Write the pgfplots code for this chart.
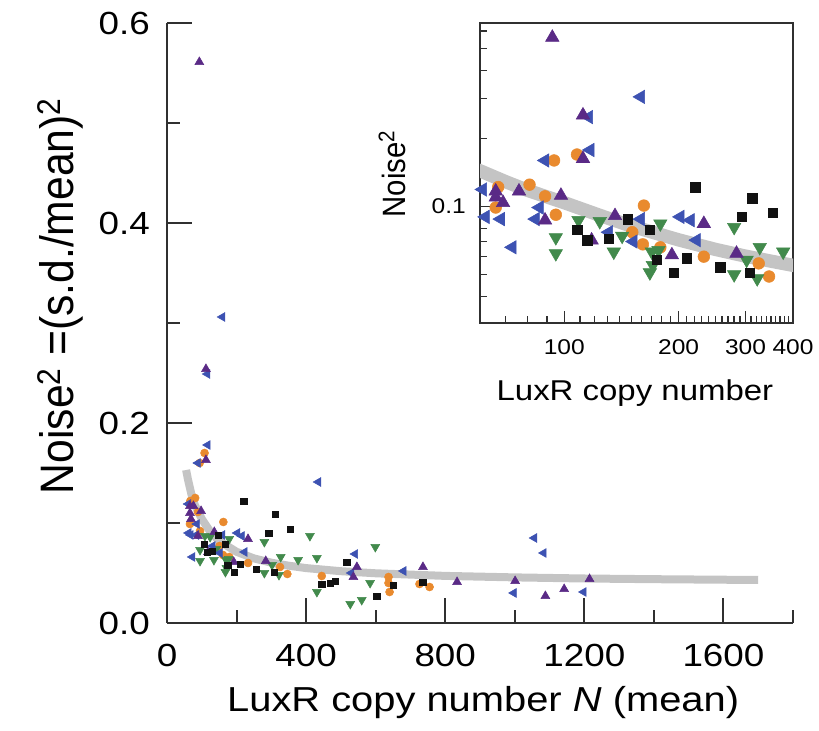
\documentclass[border=0pt]{standalone}
\usepackage{fontspec}
\setmainfont[FakeStretch=1.15]{Liberation Sans}
\newfontfamily\plainsans{Liberation Sans}
\usepackage{graphicx}
\usepackage{pgfplots}
\usepackage{pgfplotstable}
\pgfplotsset{compat=1.18}

\definecolor{luxblack}{HTML}{111111}
\definecolor{luxorange}{HTML}{E98A2E}
\definecolor{luxgreen}{HTML}{428A4C}
\definecolor{luxblue}{HTML}{3D52B2}
\definecolor{luxpurple}{HTML}{5A2A86}
\definecolor{fitgray}{HTML}{C4C4C4}
\definecolor{axisgray}{HTML}{303030}

% noise^2 against mean LuxR copy number, one table per strain
\pgfplotstableread{
N v
221 0.122
312 0.109
354 0.094
293 0.090
147 0.088
168 0.079
108 0.079
115 0.071
131 0.072
175 0.058
210 0.059
194 0.051
257 0.054
308 0.051
445 0.039
469 0.040
483 0.042
517 0.061
603 0.027
651 0.038
735 0.041
}\tblack

\pgfplotstableread{
N v
94 0.160
108 0.170
67 0.122
81 0.125
89 0.111
66 0.099
95 0.092
162 0.101
151 0.077
161 0.068
179 0.066
233 0.060
325 0.056
346 0.049
445 0.047
637 0.046
637 0.040
640 0.031
726 0.039
755 0.036
}\torange

\pgfplotstableread{
N v
109 0.087
124 0.086
95 0.073
95 0.062
135 0.063
142 0.074
179 0.084
170 0.063
171 0.055
168 0.051
177 0.064
280 0.081
280 0.050
302 0.058
327 0.066
322 0.048
377 0.063
411 0.087
431 0.065
431 0.031
599 0.076
584 0.040
527 0.019
560 0.023
}\tgreen

\pgfplotstableread{
N v
159 0.306
116 0.249
117 0.178
89 0.160
61 0.119
62 0.090
68 0.088
73 0.066
86 0.099
84 0.088
131 0.077
152 0.070
159 0.088
202 0.090
215 0.087
223 0.071
435 0.141
530 0.050
541 0.069
680 0.052
1056 0.085
1083 0.070
997 0.030
1198 0.031
}\tblue

\pgfplotstableread{
N v
93 0.561
112 0.254
112 0.163
76 0.117
66 0.117
66 0.110
69 0.104
98 0.112
89 0.087
136 0.091
118 0.071
233 0.084
192 0.061
284 0.062
546 0.056
536 0.046
736 0.056
834 0.041
1001 0.042
1088 0.027
1142 0.034
1215 0.044
}\tpurple

% fitted noise curve
\pgfplotstableread{
N v
55 0.153
60 0.144
70 0.129
80 0.118
100 0.104
125 0.0910
150 0.0820
200 0.0712
250 0.0646
300 0.0603
350 0.0573
400 0.0549
500 0.0518
600 0.0497
800 0.0471
1000 0.0456
1200 0.0445
1400 0.0438
1700 0.0430
}\tfit

\pgfplotsset{
  sqr/.style={only marks, mark=square*, color=luxblack, mark size=#1},
  dot/.style={only marks, mark=*, color=luxorange, mark size=#1},
  tdown/.style={only marks, mark=triangle*, color=luxgreen, mark size=#1, mark options={rotate=180}},
  tleft/.style={only marks, mark=triangle*, color=luxblue, mark size=#1, mark options={rotate=90}},
  tup/.style={only marks, mark=triangle*, color=luxpurple, mark size=#1},
}

\begin{document}
\begin{tikzpicture}
\useasboundingbox (-125.25pt,-81pt) rectangle (489pt,467.25pt);

\begin{axis}[
  at={(0pt,0pt)}, anchor=south west, scale only axis,
  width=469.5pt, height=450pt,
  xmin=0, xmax=1800, ymin=0, ymax=0.6,
  axis x line*=bottom, axis y line*=left,
  axis line style={line width=1.5pt, color=axisgray, -},
  tick align=inside,
  major tick length=18.5pt, minor tick length=10pt,
  every tick/.style={line width=1.5pt, color=axisgray},
  xtick={0,400,800,1200,1600}, xticklabels={0,400,800,1200,1600},
  minor xtick={200,600,1000,1400,1800},
  ytick={0,0.2,0.4,0.6}, yticklabels={0.0,0.2,0.4,0.6},
  minor ytick={0.1,0.3,0.5},
  tick label style={font=\fontsize{24}{28}\selectfont},
  xticklabel style={anchor=base, inner sep=0pt, yshift=-33pt},
  yticklabel style={anchor=east, inner sep=0pt, xshift=-12.75pt},
  xlabel={LuxR copy number \textit{N} (mean)},
  xlabel style={font=\fontsize{26}{30}\selectfont, at={(axis description cs:0.505,-0.147)}, anchor=base},
  ylabel={\scalebox{1}[1.1]{Noise\textsuperscript{2} =(s.d./mean)\textsuperscript{2}}},
  ylabel style={font=\plainsans\fontsize{32}{36}\selectfont, at={(axis description cs:-0.17,0.545)}, anchor=center},
]
\addplot[color=fitgray, line width=6pt, no marks] table[x=N, y=v] {\tfit};
\addplot[dot=3pt] table[x=N, y=v] {\torange};
\addplot[tdown=3.8pt] table[x=N, y=v] {\tgreen};
\addplot[tleft=3.8pt] table[x=N, y=v] {\tblue};
\addplot[tup=3.8pt] table[x=N, y=v] {\tpurple};
\addplot[sqr=2.4pt] table[x=N, y=v] {\tblack};
\end{axis}

\begin{axis}[
  at={(234.75pt,225pt)}, anchor=south west, scale only axis,
  width=234.75pt, height=225pt,
  xmode=log, ymode=log,
  xmin=60, xmax=400, ymin=0.0305, ymax=0.65,
  axis background/.style={fill=white},
  axis line style={line width=1.2pt, color=axisgray},
  tick align=inside, xtick pos=bottom, ytick pos=left,
  major tick length=9pt, minor tick length=5pt,
  every tick/.style={line width=1pt, color=axisgray},
  xtick={100,200,300,400}, xticklabels={100,200,300,400},
  minor xtick={60,70,80,90,110,120,130,140,150,160,170,180,190,210,220,230,240,250,260,270,280,290,310,320,330,340,350,360,370,380,390},
  ytick={0.1}, yticklabels={0.1},
  minor ytick={0.04,0.05,0.06,0.07,0.08,0.09,0.2,0.3,0.4,0.5,0.6},
  tick label style={font=\fontsize{16}{19}\selectfont},
  xticklabel style={anchor=base, inner sep=0pt, yshift=-24pt},
  yticklabel style={anchor=east, inner sep=0pt, xshift=-10.5pt},
  xlabel={LuxR copy number},
  xlabel style={font=\fontsize{21.5}{25}\selectfont, at={(axis description cs:0.495,-0.2567)}, anchor=base},
  ylabel={\scalebox{1}[1.1]{Noise\textsuperscript{2}}},
  ylabel style={font=\plainsans\fontsize{22}{26}\selectfont, at={(axis description cs:-0.281,0.497)}, anchor=center},
]
\addplot[color=fitgray, line width=10pt, no marks] table[x=N, y=v] {\tfit};
\addplot[dot=4.4pt] table[x=N, y=v] {\torange};
\addplot[tdown=5.8pt] table[x=N, y=v] {\tgreen};
\addplot[tleft=5.8pt] table[x=N, y=v] {\tblue};
\addplot[tup=5.8pt] table[x=N, y=v] {\tpurple};
\addplot[sqr=3.6pt] table[x=N, y=v] {\tblack};
\end{axis}
\end{tikzpicture}
\end{document}
